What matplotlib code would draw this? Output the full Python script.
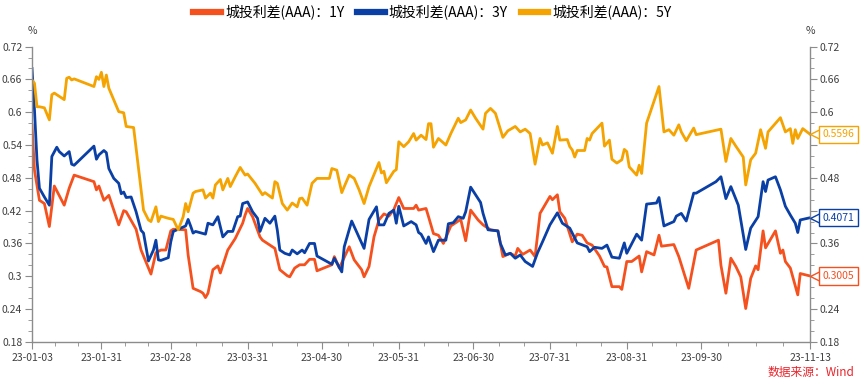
import matplotlib
matplotlib.use("Agg")
import matplotlib.dates as mdates
import matplotlib.pyplot as plt
import matplotlib.transforms as mtransforms
import numpy as np
import pandas as pd
from matplotlib.ticker import FixedLocator, MultipleLocator, FuncFormatter

plt.rcParams["font.family"] = ["Noto Sans CJK SC", "DejaVu Sans"]

START = pd.Timestamp("2023-01-03")

# days counted from 2023-01-03
red_days = [0, 1, 3, 5, 7, 9, 13, 15, 17, 25, 26, 27, 29, 31, 33, 35, 37, 38, 42, 44,
            48, 50, 52, 54, 56, 57, 62, 63, 65, 68, 69, 70, 71, 73, 75, 76, 79, 82, 85, 86,
            87, 89, 92, 93, 98, 100, 103, 104, 106, 108, 110, 112, 114, 115, 121, 122, 124, 128,
            130, 133, 134, 136, 138, 140, 142, 144, 146, 148, 150, 154, 155, 156, 159, 160, 162,
            164, 166, 169, 173, 175, 177, 180, 182, 185, 188, 190, 193, 195, 196, 198, 201, 203,
            205, 209, 210, 212, 213, 215, 218, 220, 222, 224, 226, 229, 231, 232, 234, 237, 238,
            240, 242, 245, 246, 248, 251, 253, 254, 259, 261, 265, 268, 277, 278, 280, 282, 284,
            286, 288, 290, 292, 293, 295, 296, 300, 302, 303, 304, 306, 309, 310, 314]
red_vals = [0.577, 0.494, 0.439, 0.433, 0.391, 0.465, 0.430, 0.461, 0.485, 0.473, 0.458, 0.465,
            0.439, 0.448, 0.421, 0.394, 0.420, 0.418, 0.386, 0.348, 0.304, 0.343, 0.348, 0.348,
            0.383, 0.386, 0.385, 0.339, 0.278, 0.272, 0.269, 0.261, 0.269, 0.312, 0.319, 0.306,
            0.348, 0.369, 0.397, 0.412, 0.424, 0.409, 0.372, 0.366, 0.351, 0.312, 0.301, 0.299,
            0.315, 0.321, 0.321, 0.331, 0.331, 0.310, 0.321, 0.336, 0.315, 0.354, 0.330, 0.312,
            0.299, 0.318, 0.372, 0.403, 0.414, 0.410, 0.422, 0.444, 0.424, 0.424, 0.430, 0.421,
            0.424, 0.409, 0.378, 0.375, 0.360, 0.392, 0.404, 0.365, 0.421, 0.403, 0.394, 0.385,
            0.383, 0.336, 0.342, 0.337, 0.351, 0.340, 0.348, 0.336, 0.415, 0.446, 0.440, 0.449,
            0.418, 0.406, 0.363, 0.377, 0.375, 0.361, 0.357, 0.337, 0.318, 0.317, 0.281, 0.281,
            0.276, 0.327, 0.327, 0.337, 0.308, 0.345, 0.339, 0.375, 0.355, 0.358, 0.336, 0.278,
            0.348, 0.366, 0.320, 0.269, 0.333, 0.318, 0.299, 0.241, 0.296, 0.319, 0.312, 0.383,
            0.352, 0.383, 0.342, 0.348, 0.327, 0.315, 0.266, 0.305, 0.3005]

blue_days = [0, 1, 2, 3, 5, 7, 8, 10, 11, 13, 15, 16, 17, 25, 26, 27, 29, 30, 31, 33, 35, 36,
             37, 38, 40, 42, 44, 45, 47, 49, 50, 51, 52, 55, 56, 57, 60, 62, 63, 64, 65, 66, 70,
             71, 73, 75, 77, 79, 81, 83, 84, 85, 87, 89, 91, 92, 94, 96, 98, 99, 100, 102, 104,
             105, 107, 109, 110, 112, 114, 115, 121, 122, 125, 126, 129, 134, 136, 139, 140, 142,
             144, 146, 147, 148, 150, 153, 155, 156, 157, 159, 160, 162, 164, 167, 168, 170, 172,
             174, 175, 177, 179, 181, 182, 184, 188, 189, 191, 193, 195, 197, 199, 202, 204, 206,
             209, 212, 214, 217, 220, 224, 225, 227, 230, 232, 234, 237, 239, 240, 244, 246, 248,
             252, 253, 255, 259, 260, 262, 264, 267, 268, 276, 278, 280, 282, 285, 288, 290, 293,
             295, 296, 297, 300, 302, 304, 306, 308, 309, 310, 314]
blue_vals = [0.680, 0.604, 0.513, 0.461, 0.445, 0.430, 0.519, 0.536, 0.528, 0.520, 0.528, 0.505,
             0.503, 0.538, 0.514, 0.522, 0.530, 0.526, 0.497, 0.479, 0.470, 0.451, 0.454, 0.444,
             0.445, 0.418, 0.384, 0.379, 0.328, 0.348, 0.366, 0.330, 0.329, 0.334, 0.363, 0.382,
             0.388, 0.392, 0.404, 0.392, 0.379, 0.382, 0.377, 0.397, 0.394, 0.409, 0.372, 0.382,
             0.382, 0.409, 0.410, 0.433, 0.436, 0.418, 0.406, 0.382, 0.406, 0.397, 0.410, 0.384,
             0.348, 0.342, 0.339, 0.348, 0.341, 0.348, 0.343, 0.360, 0.360, 0.337, 0.322, 0.333,
             0.308, 0.354, 0.401, 0.351, 0.404, 0.427, 0.394, 0.394, 0.415, 0.421, 0.397, 0.428,
             0.392, 0.400, 0.394, 0.380, 0.377, 0.360, 0.372, 0.345, 0.366, 0.366, 0.396, 0.398,
             0.409, 0.406, 0.418, 0.463, 0.449, 0.435, 0.415, 0.385, 0.383, 0.360, 0.339, 0.342,
             0.333, 0.339, 0.327, 0.318, 0.343, 0.363, 0.394, 0.416, 0.397, 0.388, 0.361, 0.354,
             0.345, 0.353, 0.351, 0.357, 0.335, 0.333, 0.361, 0.342, 0.377, 0.366, 0.432, 0.434,
             0.444, 0.392, 0.400, 0.410, 0.415, 0.401, 0.452, 0.452, 0.473, 0.482, 0.442, 0.464,
             0.430, 0.349, 0.388, 0.409, 0.473, 0.455, 0.476, 0.482, 0.458, 0.428, 0.412, 0.397,
             0.380, 0.403, 0.4071]

orange_days = [0, 1, 2, 3, 5, 7, 8, 9, 11, 13, 14, 15, 16, 17, 25, 26, 27, 28, 29, 30, 31, 35,
               37, 38, 41, 45, 47, 48, 50, 51, 52, 55, 57, 59, 61, 62, 63, 65, 66, 69, 70, 72,
               73, 74, 76, 77, 79, 80, 82, 84, 86, 87, 90, 93, 94, 97, 98, 99, 101, 103, 105,
               107, 108, 109, 111, 113, 115, 120, 121, 123, 125, 126, 128, 130, 132, 134, 136,
               140, 141, 142, 143, 146, 147, 148, 150, 152, 154, 155, 157, 159, 160, 161, 162,
               164, 167, 169, 172, 173, 175, 177, 179, 182, 183, 185, 187, 190, 192, 195, 197,
               199, 201, 203, 205, 206, 208, 210, 212, 213, 216, 217, 218, 219, 220, 223, 224,
               225, 226, 230, 231, 233, 234, 236, 238, 239, 240, 241, 244, 245, 246, 248, 253,
               255, 257, 259, 261, 262, 264, 267, 268, 278, 279, 280, 282, 284, 287, 288, 290,
               292, 294, 296, 297, 302, 304, 306, 307, 308, 309, 311, 314]
orange_vals = [0.659, 0.653, 0.610, 0.610, 0.608, 0.586, 0.632, 0.635, 0.629, 0.623, 0.662,
               0.664, 0.659, 0.661, 0.647, 0.665, 0.660, 0.673, 0.647, 0.668, 0.644, 0.601,
               0.599, 0.574, 0.572, 0.421, 0.403, 0.400, 0.427, 0.400, 0.410, 0.406, 0.404,
               0.385, 0.409, 0.433, 0.418, 0.452, 0.455, 0.458, 0.443, 0.452, 0.443, 0.467,
               0.477, 0.458, 0.479, 0.464, 0.482, 0.499, 0.485, 0.487, 0.470, 0.449, 0.453,
               0.443, 0.473, 0.470, 0.433, 0.421, 0.434, 0.427, 0.442, 0.443, 0.430, 0.470,
               0.479, 0.479, 0.497, 0.494, 0.453, 0.464, 0.485, 0.479, 0.458, 0.433, 0.464,
               0.508, 0.489, 0.492, 0.471, 0.492, 0.495, 0.546, 0.537, 0.546, 0.561, 0.549,
               0.558, 0.550, 0.579, 0.579, 0.536, 0.552, 0.540, 0.561, 0.589, 0.581, 0.586,
               0.604, 0.589, 0.569, 0.598, 0.607, 0.598, 0.554, 0.566, 0.574, 0.564, 0.569,
               0.561, 0.505, 0.552, 0.540, 0.544, 0.525, 0.574, 0.549, 0.550, 0.537, 0.531,
               0.518, 0.530, 0.530, 0.552, 0.549, 0.561, 0.580, 0.538, 0.549, 0.514, 0.507,
               0.513, 0.532, 0.528, 0.500, 0.485, 0.503, 0.488, 0.580, 0.647, 0.564, 0.568,
               0.558, 0.577, 0.564, 0.548, 0.571, 0.559, 0.569, 0.540, 0.510, 0.552, 0.538,
               0.518, 0.467, 0.513, 0.525, 0.568, 0.534, 0.564, 0.590, 0.564, 0.570, 0.543,
               0.568, 0.552, 0.570, 0.5596]

tick_dates = ["2023-01-03", "2023-01-31", "2023-02-28", "2023-03-31", "2023-04-30",
              "2023-05-31", "2023-06-30", "2023-07-31", "2023-08-31", "2023-09-30",
              "2023-11-13"]

series = [
    ("城投利差(AAA)：1Y", red_days, red_vals, "#F4511E"),
    ("城投利差(AAA)：3Y", blue_days, blue_vals, "#0A3FA5"),
    ("城投利差(AAA)：5Y", orange_days, orange_vals, "#F4A300"),
]

AXIS_GREY = "#8C8C8C"
TEXT_GREY = "#404040"

fig = plt.figure(figsize=(8.65, 3.82), dpi=100, facecolor="white")
ax = fig.add_axes([0.037, 0.105, 0.8996, 0.773])

for label, days, vals, color in series:
    dates = START + pd.to_timedelta(days, unit="D")
    ax.plot(dates, vals, color=color, linewidth=2.0, label=label, solid_joinstyle="round")

ax.set_ylim(0.18, 0.72)
ax.set_xlim(START, pd.Timestamp("2023-11-13"))

ax.yaxis.set_major_locator(MultipleLocator(0.06))
ax.yaxis.set_minor_locator(MultipleLocator(0.02))
ax.yaxis.set_major_formatter(FuncFormatter(lambda v, _: f"{v:.2f}".rstrip("0")))

major = pd.to_datetime(tick_dates)
ax.xaxis.set_major_locator(FixedLocator(mdates.date2num(major)))
ax.xaxis.set_major_formatter(mdates.DateFormatter("%y-%m-%d"))
minor = []
for a, b in zip(major[:-1], major[1:]):
    n = max(2, int(round((b - a).days / 10)))
    minor.extend(np.linspace(mdates.date2num(a), mdates.date2num(b), n + 1)[1:-1])
ax.xaxis.set_minor_locator(FixedLocator(minor))

ax.tick_params(axis="y", which="both", left=True, right=True, labelright=True,
               direction="out", colors=AXIS_GREY, labelcolor=TEXT_GREY, labelsize=7.5, pad=2)
ax.tick_params(axis="y", which="major", length=5)
ax.tick_params(axis="y", which="minor", length=3)
ax.tick_params(axis="x", which="major", length=5, colors=AXIS_GREY, labelcolor=TEXT_GREY,
               labelsize=7.5, pad=3)
ax.tick_params(axis="x", which="minor", length=3, colors=AXIS_GREY)

ax.spines["top"].set_visible(False)
for side in ("left", "right", "bottom"):
    ax.spines[side].set_color(AXIS_GREY)
    ax.spines[side].set_linewidth(1.0)

ax.text(0.0, 1.054, "%", transform=ax.transAxes, ha="center", va="center",
        fontsize=7.5, color=TEXT_GREY)
ax.text(1.0, 1.054, "%", transform=ax.transAxes, ha="center", va="center",
        fontsize=7.5, color=TEXT_GREY)

# last-value tags on the right axis; they sit over the right tick labels they cover
fig.canvas.draw()
last_values = [vals[-1] for _, _, vals, _ in series]
for tick in ax.yaxis.get_major_ticks():
    if any(abs(tick.get_loc() - v) < 0.025 for v in last_values):
        tick.label2.set_visible(False)

trans = mtransforms.blended_transform_factory(ax.transAxes, ax.transData)
for label, days, vals, color in series:
    last = vals[-1]
    ax.plot([1.006], [last], marker="<", markersize=7, markerfacecolor="white",
            markeredgecolor=color, markeredgewidth=1.0, transform=trans, clip_on=False,
            zorder=5)
    ax.text(1.016, last, f"{last:.4f}", transform=trans, ha="left", va="center",
            fontsize=7.5, color=color, zorder=6,
            bbox=dict(boxstyle="square,pad=0.35", facecolor="white", edgecolor=color,
                      linewidth=1.0))

fig.legend(loc="upper center", bbox_to_anchor=(0.5, 1.02), ncol=3, frameon=False,
           fontsize=10, handlelength=2.0, handletextpad=0.3, columnspacing=0.9)
for line in fig.legends[0].get_lines():
    line.set_linewidth(4.5)

fig.text(0.988, 0.025, "数据来源：Wind", ha="right", va="center", fontsize=8.5,
         color="#E8232A")

fig.savefig("out.png", dpi=100, facecolor="white")
plt.close(fig)
